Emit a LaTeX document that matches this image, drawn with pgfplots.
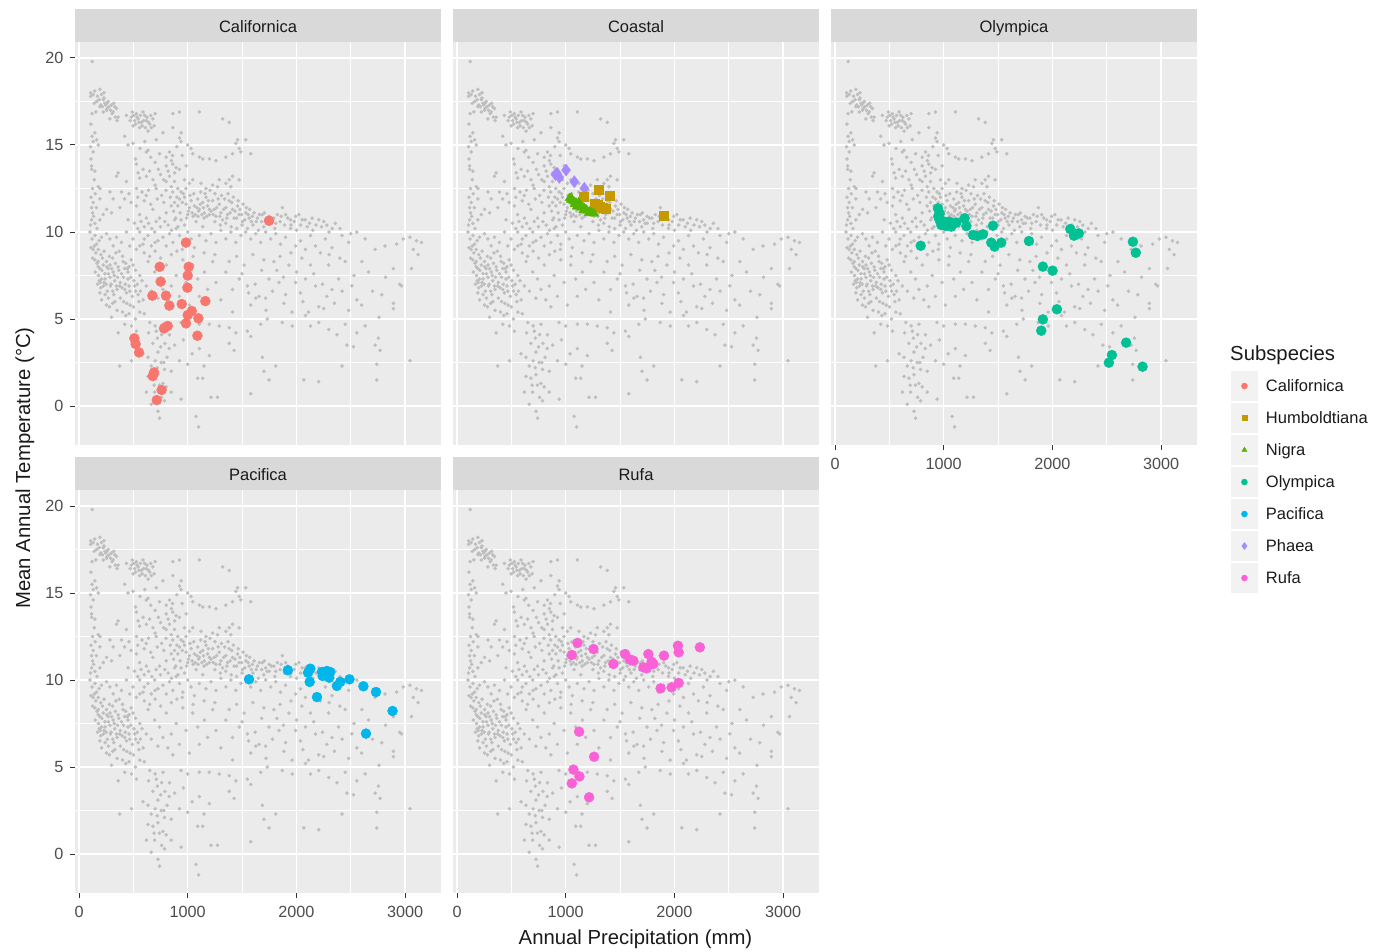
\documentclass[border=0pt]{standalone}
\usepackage{fontspec}
\setmainfont{Liberation Sans}
\usepackage{pgfplots}
\pgfplotsset{compat=1.18}
\usepackage{pgfplotstable}
\definecolor{ggbg}{HTML}{EBEBEB}
\definecolor{ggstrip}{HTML}{D9D9D9}
\definecolor{ggpt}{HTML}{BEBEBE}
\definecolor{ggtick}{HTML}{333333}
\definecolor{ggticklab}{HTML}{4D4D4D}
\definecolor{ggtext}{HTML}{1A1A1A}
\definecolor{ggkey}{HTML}{F2F2F2}
\definecolor{cCal}{HTML}{F8766D}
\definecolor{cHum}{HTML}{C49A00}
\definecolor{cNig}{HTML}{53B400}
\definecolor{cOly}{HTML}{00C094}
\definecolor{cPac}{HTML}{00B6EB}
\definecolor{cPha}{HTML}{A58AFF}
\definecolor{cRuf}{HTML}{FB61D7}
\newcommand\ticksize{\fontsize{16.2}{19}\selectfont}
\newcommand\stripsize{\fontsize{16.5}{19}\selectfont}
\newcommand\titlesize{\fontsize{20.3}{24}\selectfont}

\pgfplotstableread{
P T
122 19.8
107 18.0
107 17.8
192 18.2
207 17.9
223 17.6
238 17.4
268 17.5
299 17.3
329 17.2
345 17.1
253 17.0
192 17.2
162 17.5
223 16.9
314 16.9
360 16.6
284 16.5
482 16.6
512 16.4
543 16.5
573 16.3
604 16.7
619 16.4
650 16.2
680 16.5
528 16.8
589 16.9
558 16.0
497 16.1
665 16.0
635 15.8
436 16.7
924 16.9
1107 16.9
1321 16.5
1382 16.3
863 16.8
146 15.7
162 15.3
177 15.0
131 15.2
421 15.5
451 15.0
497 15.1
604 15.2
711 15.3
772 15.7
863 16.0
939 15.7
924 15.4
939 15.2
1031 14.8
1046 14.5
1458 15.3
1443 15.1
1534 15.3
116 13.8
116 13.6
146 13.5
360 13.4
528 13.9
543 13.4
619 14.6
635 14.7
741 14.5
802 14.3
832 14.6
863 13.9
894 13.7
924 13.6
985 13.8
1107 14.3
1138 14.2
1199 14.2
1260 14.1
1351 14.3
1412 14.5
1473 14.8
1489 14.6
1580 14.5
650 13.5
700 14.0
750 13.3
850 14.1
900 14.9
950 14.4
1000 15.0
177 12.6
192 12.5
284 12.3
345 13.2
558 13.1
680 13.0
832 13.2
802 12.9
848 12.6
878 12.9
939 12.3
1015 12.8
985 12.5
1046 13.0
1122 12.8
1168 12.5
1229 12.7
1274 12.6
1290 13.0
1382 13.0
1351 12.8
1412 13.2
1473 13.0
1397 12.6
802 13.8
863 12.3
909 12.5
970 13.0
711 12.5
619 12.1
528 12.5
436 12.9
390 12.3
314 11.9
192 11.9
131 11.7
125 11.1
116 10.7
146 10.5
192 10.7
223 11.0
253 11.3
299 11.1
375 11.4
451 10.7
528 11.5
558 11.0
619 10.8
680 11.3
741 10.8
802 11.1
848 11.5
878 11.7
924 11.9
970 12.0
985 11.6
1015 11.4
1031 11.8
1061 11.5
1092 11.9
1107 11.3
1138 11.7
1153 11.1
1168 12.0
1183 11.5
1199 11.0
1229 11.8
1244 11.3
1260 10.9
1290 11.6
1305 11.1
1321 10.7
1351 11.4
1366 11.0
1382 11.8
1412 11.3
1427 10.8
1458 11.5
1473 11.0
1504 10.6
1534 11.1
1565 10.8
1595 10.9
1641 10.8
1687 11.0
1717 10.7
1748 10.9
1793 10.8
1824 11.0
1870 11.4
1900 11.0
1946 10.7
1992 10.9
2022 11.0
2053 10.7
2144 10.8
2205 10.7
2251 10.6
2358 10.5
939 10.7
1077 10.6
970 10.4
1000 11.0
1050 10.9
1100 11.2
1150 10.8
1200 11.3
1250 10.6
1300 10.4
1350 10.5
1400 10.3
1450 10.2
1500 10.4
1550 10.2
1600 10.4
1650 10.1
1700 10.3
1750 10.5
1800 10.2
1850 10.6
1950 10.4
2000 10.1
2100 10.3
2150 10.1
2300 10.0
2400 10.2
2500 9.9
101 10.0
146 9.8
162 9.3
177 9.0
207 9.7
253 9.9
284 9.6
314 9.2
345 9.7
390 9.4
436 10.0
467 9.2
497 9.6
528 9.0
558 10.0
589 9.3
635 9.8
665 9.2
696 10.0
726 9.5
772 9.7
802 9.2
832 9.9
863 9.4
894 10.2
924 9.8
955 9.3
1000 10.0
1031 9.6
1061 9.1
1107 9.8
1138 10.3
1168 9.5
1214 9.9
1260 9.4
1305 10.1
1351 9.6
1397 10.0
1443 9.4
1489 9.8
1534 10.0
1580 9.6
1626 9.9
1671 9.4
1717 10.0
1763 9.6
1809 9.9
1854 9.3
1900 9.7
1946 10.2
1992 9.2
2037 9.5
2083 9.0
2129 9.8
2175 9.2
2220 8.8
2266 9.6
2327 9.1
2419 9.8
2480 9.4
2556 10.0
2632 9.6
2724 9.0
2815 9.2
2922 9.3
2983 9.6
3044 9.7
3105 9.5
3150 9.4
3075 9.0
3120 8.7
3059 7.9
2968 6.9
2892 7.9
177 8.3
223 8.1
253 8.3
192 7.9
207 7.3
238 7.6
268 7.9
284 7.4
314 7.7
329 7.2
360 8.0
375 6.9
406 8.3
421 6.7
451 7.3
467 6.6
497 8.1
512 6.9
543 6.4
558 7.5
589 6.1
619 6.9
635 8.3
665 6.6
696 7.7
726 6.2
741 7.3
772 6.7
802 8.1
817 6.1
848 6.9
863 5.7
894 7.5
924 6.3
955 8.4
985 7.1
1015 5.8
1046 8.1
1092 7.3
1107 6.3
1153 7.7
1183 6.7
1229 8.3
1260 7.1
1305 6.1
1351 7.7
1382 8.3
1412 6.7
1473 7.3
1519 8.1
1549 6.9
1580 5.8
1626 6.2
1656 6.3
1717 6.2
1748 7.3
1793 8.3
1839 7.1
1885 5.9
1931 8.1
1992 7.1
2037 6.5
2083 7.3
2129 8.1
2175 6.9
2205 5.7
2251 5.6
2297 8.1
2327 6.7
2388 7.3
2449 8.3
2510 6.9
2556 6.1
2602 8.3
2663 7.7
2785 6.4
2892 5.6
131 9.0
146 8.4
177 8.0
186 7.2
192 6.5
207 6.1
253 5.8
299 5.1
360 4.2
421 4.7
482 4.6
528 4.3
170 7.0
200 6.8
230 7.1
260 6.6
290 6.9
320 6.4
350 6.7
380 6.2
410 6.0
440 5.9
470 5.8
500 5.7
280 8.6
310 8.5
340 8.8
370 8.9
400 8.6
430 8.2
460 8.0
250 7.0
270 6.2
330 6.0
390 7.6
420 7.9
450 7.7
480 8.4
520 7.8
600 8.8
560 9.2
650 8.6
700 8.9
750 8.5
850 8.7
900 8.9
950 9.0
1050 8.6
1150 8.8
1250 8.7
1450 8.6
1600 8.7
1700 8.4
1850 8.6
1950 8.8
2050 8.5
2300 8.7
2400 8.5
650 4.8
711 4.3
772 4.7
832 4.1
939 4.8
1000 4.6
1107 4.7
1199 4.7
1290 4.6
1382 4.5
1412 5.4
1443 4.2
1549 4.3
1580 4.0
1671 4.7
1732 5.0
1870 4.8
1961 4.6
2083 5.2
2129 4.6
2205 4.8
2297 4.4
2373 4.1
2449 4.7
2556 4.2
2632 4.6
2754 3.9
2770 3.2
2724 3.5
2892 5.9
375 2.3
482 2.6
589 3.0
635 2.8
665 2.3
726 3.1
757 2.5
787 2.1
848 2.0
924 2.6
1000 2.4
1107 3.3
1199 2.9
1382 3.6
1427 3.2
1687 2.8
1702 2.0
1748 1.5
1809 2.3
2068 1.5
2205 1.4
2419 2.3
2464 3.5
2525 3.4
2739 2.4
2739 1.5
3044 2.6
635 1.7
680 1.6
726 1.8
772 1.3
802 1.1
619 0.8
696 0.8
665 0.1
787 0.3
848 0.8
939 0.4
1092 1.6
1138 1.6
1214 0.5
1274 0.5
1580 0.7
726 -0.3
741 -0.7
1077 -0.6
1101 -1.2
870 11.2
890 10.8
910 11.5
930 11.1
950 11.7
960 12.2
990 10.8
1005 11.2
1020 12.1
1040 11.1
1055 12.2
1070 11.0
1085 11.4
1095 10.9
1115 11.6
1120 12.3
1130 11.0
1145 11.4
1160 12.2
1175 10.9
1190 11.8
1205 12.4
1215 11.2
1235 11.0
1250 12.2
1265 11.4
1280 11.9
1295 10.9
1310 12.1
1330 11.3
1340 11.9
1360 10.8
1370 12.2
1390 11.1
1405 11.7
1420 12.0
1435 11.2
1450 10.8
1465 11.8
1480 11.3
1495 11.0
1510 11.6
1525 10.7
1540 11.4
1555 11.0
1570 11.3
1585 10.6
1610 11.1
1630 10.6
1660 11.0
1680 10.6
1705 11.1
1730 10.5
1770 10.8
1810 10.5
1860 10.9
1890 10.4
1920 10.8
1980 10.6
2040 10.4
2080 10.7
2120 10.5
2180 10.4
2230 10.3
2280 10.4
2330 10.2
130 17.9
145 18.1
170 17.8
185 17.6
200 17.3
215 17.2
230 17.7
245 17.3
260 17.1
275 17.2
290 17.0
305 16.8
230 18.0
255 17.4
140 17.4
155 16.9
120 16.8
320 17.4
335 16.6
350 16.4
470 16.4
490 16.9
505 16.7
520 16.2
535 16.6
550 16.3
565 16.7
580 16.1
595 16.4
610 16.0
625 16.6
640 16.3
660 16.7
690 16.1
700 16.8
110 16.2
120 15.5
105 14.9
130 14.6
110 14.2
140 13.0
125 12.5
110 12.0
150 12.2
115 11.4
160 11.4
135 10.9
105 10.4
165 10.2
120 9.6
140 9.2
185 9.5
110 9.1
155 8.8
125 8.5
200 8.7
165 8.2
150 7.7
215 8.5
230 8.9
180 7.5
195 7.1
210 7.8
225 6.9
240 7.3
255 8.0
270 7.6
285 8.1
295 7.0
300 7.9
310 6.6
325 7.5
335 8.2
345 6.9
355 7.4
365 7.8
380 7.1
395 6.8
410 7.4
425 7.0
435 6.5
445 7.9
460 6.9
475 7.4
490 6.3
505 7.2
520 6.6
535 7.0
550 6.0
565 6.6
580 7.2
240 6.4
280 5.7
310 5.9
350 5.5
400 5.4
430 5.2
460 5.3
520 5.0
560 5.4
520 14.2
560 14.8
590 13.6
620 13.2
660 14.3
700 12.7
730 13.6
760 12.1
780 13.0
800 12.4
820 13.5
840 12.0
860 14.4
880 13.4
900 12.0
640 12.4
600 11.8
660 11.6
720 11.9
780 11.7
580 12.3
540 12.0
480 11.7
460 12.2
420 11.9
510 10.5
540 10.2
570 10.6
600 10.3
640 10.5
670 10.2
710 10.6
750 10.3
790 10.6
820 10.4
850 10.1
880 10.7
910 10.3
600 9.6
700 9.4
600 5.3
640 4.2
680 3.6
700 4.6
720 3.9
750 3.4
760 4.1
790 3.6
810 2.8
830 3.3
700 2.6
720 2.2
740 1.2
760 0.5
690 1.2
780 2.5
880 3.5
960 3.8
1040 3.0
1150 2.3
1500 7.6
1560 6.5
1620 7.0
1680 7.8
1720 5.5
1780 6.6
1820 7.8
1880 7.4
1900 6.4
1960 5.4
2000 7.7
2060 6.0
2110 5.4
2160 7.6
2240 7.0
2280 6.3
2350 5.9
2420 6.6
2480 5.5
2530 7.5
2600 5.8
2700 6.6
2760 5.1
2820 7.4
2950 7.0
}\bgdata

\pgfplotsset{
  ggpanel/.style={
    scale only axis, width=366pt, height=403pt, anchor=south west,
    xmin=-37, xmax=3330, ymin=-2.24, ymax=20.92,
    axis background/.style={fill=ggbg},
    axis line style={draw=none},
    xtick={0,1000,2000,3000}, ytick={0,5,10,15,20},
    minor xtick={500,1500,2500}, minor ytick={2.5,7.5,12.5,17.5},
    xmajorgrids, ymajorgrids, xminorgrids, yminorgrids,
    major grid style={draw=white, line width=1.5pt},
    minor grid style={draw=white, line width=0.75pt},
    tick align=outside, tick pos=left,
    major tick length=5pt, minor tick length=0pt,
    tick style={draw=ggtick, line width=1pt},
    ticklabel style={font=\ticksize, text=ggticklab},
    xticklabel style={yshift=-5pt},
    yticklabel style={xshift=-3pt},
    /pgf/number format/assume math mode=true,
    /pgf/number format/1000 sep={},
    xmajorticks=false, ymajorticks=false,
    every axis title/.style={at={(0.5,1)}, anchor=south, fill=ggstrip,
      minimum width=366pt, minimum height=33pt, inner sep=0pt,
      text height=18pt, text depth=3.5pt,
      font=\stripsize, text=ggtext},
  },
  bg/.style={only marks, mark=*, mark size=1.6pt, color=ggpt, mark options={draw=none}, forget plot},
  pt/.style={only marks, mark size=5pt, color=#1, mark options={draw=none, fill=#1}, forget plot},
}

\begin{document}
\begin{tikzpicture}[x=1pt,y=1pt]
\useasboundingbox (0pt,0pt) rectangle (1378pt,952pt);

% Californica
\begin{axis}[ggpanel, at={(75pt,507pt)}, title={Californica}, ymajorticks=true]
\addplot[bg] table {\bgdata};
\addplot[pt=cCal, mark=*] coordinates {
(1748,10.65) (984,9.39) (742,8.0) (1009,8.0) (1000,7.5) (751,7.15) (997,6.8)
(675,6.34) (800,6.34) (831,5.77) (945,5.86) (1162,6.03) (1037,5.46) (1000,5.23)
(1098,5.04) (984,4.75) (816,4.6) (782,4.46) (1089,4.04) (509,3.89) (521,3.56)
(552,3.08) (690,1.93) (678,1.72) (760,0.92) (715,0.34)};
\end{axis}

% Coastal
\begin{axis}[ggpanel, at={(453pt,507pt)}, title={Coastal}]
\addplot[bg] table {\bgdata};
\addplot[pt=cPha, mark=diamond*, mark size=6pt] coordinates {
(905,13.3) (920,13.37) (941,13.14) (1003,13.56) (1079,12.89) (1171,12.51)};
\addplot[pt=cHum, mark=square*, mark size=4.5pt] coordinates {
(1303,12.41) (1401,12.09) (1162,12.03) (1263,11.65) (1309,11.46) (1371,11.36) (1898,10.92)
(1290,11.55) (1340,11.4)};
\addplot[pt=cNig, mark=triangle*] coordinates {
(1033,11.94) (1064,11.80) (1095,11.68) (1125,11.6) (1156,11.45) (1187,11.3)
(1217,11.17) (1248,11.07) (1080,11.6) (1140,11.4)
(1045,11.85) (1050,11.98) (1075,11.75) (1110,11.55) (1120,11.72) (1170,11.38)
(1200,11.22) (1230,11.15) (1265,11.05) (1100,11.45) (1160,11.25) (1210,11.08)};
\end{axis}

% Olympica
\begin{axis}[ggpanel, at={(831pt,507pt)}, title={Olympica}, xmajorticks=true,
  legend style={at={(1.090,0.186)}, anchor=north west, draw=none, fill=none,
    inner sep=0pt, outer sep=0pt, row sep=0pt, column sep=7pt,
    font=\stripsize, text=ggtext, nodes={inner sep=0pt}},
  legend cell align=left,
  legend image code/.code={
    \fill[ggkey] (0pt,-15.5pt) rectangle (28pt,15.5pt);
    \draw[white, line width=1pt] (0pt,-15.5pt) rectangle (28pt,15.5pt);
    \draw[#1] plot coordinates {(14pt,0pt)};
  }]
\addplot[bg] table {\bgdata};
\addplot[pt=cOly, mark=*] coordinates {
(947,11.36) (962,11.07) (962,10.69) (978,10.40) (1008,10.59) (1039,10.5) (1070,10.31)
(1054,10.59) (1116,10.54) (1192,10.79) (1208,10.34) (1269,9.83) (1309,9.77) (1361,9.87)
(1453,10.36) (1437,9.39) (1468,9.16) (1529,9.39) (1784,9.48) (788,9.21) (1912,8.01)
(2001,7.78) (2041,5.56) (1912,4.98) (1897,4.33) (2164,10.17) (2198,9.79) (2243,9.92)
(2219,9.87) (2740,9.44) (2767,8.81) (2678,3.64) (2547,2.93) (2519,2.49) (2829,2.26)
(950,10.9) (990,10.45) (1020,10.35)};
\addlegendimage{only marks, mark=*, mark size=3pt, color=cCal}
\addlegendentry{Californica}
\addlegendimage{only marks, mark=square*, mark size=2.6pt, color=cHum}
\addlegendentry{Humboldtiana}
\addlegendimage{only marks, mark=triangle*, mark size=3pt, color=cNig}
\addlegendentry{Nigra}
\addlegendimage{only marks, mark=*, mark size=3pt, color=cOly}
\addlegendentry{Olympica}
\addlegendimage{only marks, mark=*, mark size=3pt, color=cPac}
\addlegendentry{Pacifica}
\addlegendimage{only marks, mark=diamond*, mark size=3.5pt, color=cPha}
\addlegendentry{Phaea}
\addlegendimage{only marks, mark=*, mark size=3pt, color=cRuf}
\addlegendentry{Rufa}
\end{axis}

% Pacifica
\begin{axis}[ggpanel, at={(75pt,59pt)}, title={Pacifica}, xmajorticks=true, ymajorticks=true]
\addplot[bg] table {\bgdata};
\addplot[pt=cPac, mark=*] coordinates {
(1564,10.04) (1921,10.56) (2128,10.65) (2107,10.42) (2122,9.89) (2189,9.02) (2235,10.46)
(2241,10.23) (2281,10.52) (2311,10.46) (2302,10.13) (2372,9.66) (2403,9.89) (2488,10.04)
(2616,9.64) (2732,9.31) (2884,8.22) (2640,6.92)};
\end{axis}

% Rufa
\begin{axis}[ggpanel, at={(453pt,59pt)}, title={Rufa}, xmajorticks=true]
\addplot[bg] table {\bgdata};
\addplot[pt=cRuf, mark=*] coordinates {
(1108,12.13) (1255,11.78) (1056,11.44) (1546,11.49) (1439,10.92) (1592,11.17) (1622,11.11)
(1714,10.73) (1745,10.67) (1760,11.49) (1790,11.05) (1806,10.92) (1904,11.40) (2032,11.97)
(2039,11.59) (2234,11.88) (1873,9.52) (1974,9.58) (2039,9.83) (1123,7.03) (1261,5.59)
(1071,4.85) (1126,4.46) (1056,4.06) (1215,3.26)};
\end{axis}

\node[anchor=west, inner sep=0pt, font=\titlesize, text=ggtext] at (1230pt,597pt) {Subspecies};
\node[inner sep=0pt, font=\titlesize, text=ggtext] at (635.5pt,13pt) {Annual Precipitation (mm)};
\node[inner sep=0pt, font=\titlesize, text=ggtext, rotate=90] at (25pt,484pt) {Mean Annual Temperature (°C)};
\end{tikzpicture}
\end{document}
